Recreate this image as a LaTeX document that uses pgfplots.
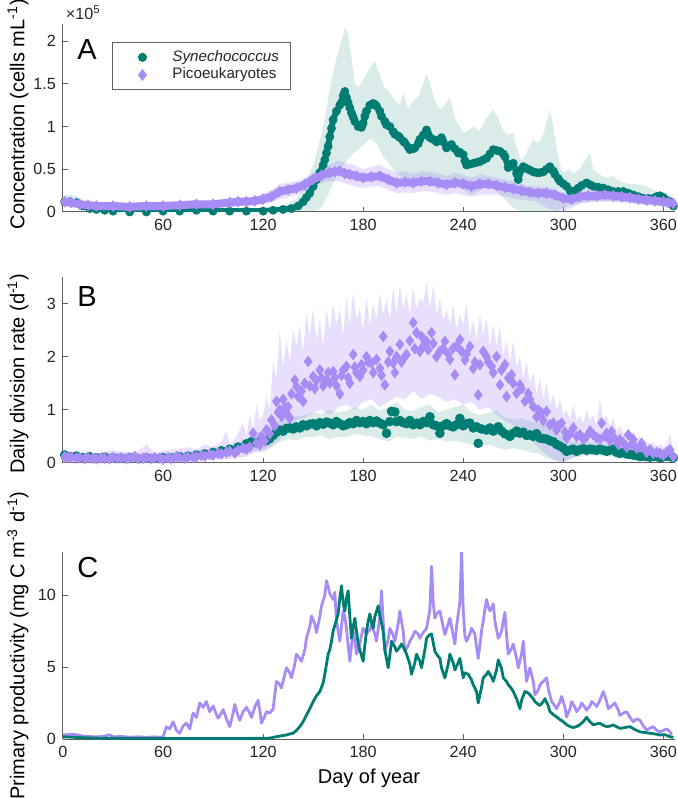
\documentclass[border=0pt]{standalone}
\usepackage{pgfplots}
\pgfplotsset{compat=1.18}
\usepackage{pgfplotstable}
\usepackage{fontspec}
\setmainfont{Liberation Sans}
\definecolor{syn}{RGB}{0,125,115}
\definecolor{pico}{RGB}{168,140,245}
\definecolor{axgray}{RGB}{95,95,95}
\definecolor{txt}{RGB}{38,38,38}

% ---------------- Panel A ----------------
\pgfplotstableread{
x y
1 0.12
4 0.12
8 0.11
12 0.07
16 0.04
20 0.03
25 0.02
30 0.01
40 0.0
50 0.0
60 0.01
70 0.01
80 0.02
90 0.01
100 0.01
110 0.01
120 0.01
126 0.02
132 0.03
137 0.04
141 0.07
144 0.12
146 0.17
148 0.22
150 0.30
152 0.38
154 0.46
156 0.55
157 0.61
158 0.69
159 0.77
160 0.88
161 0.98
162 1.08
164 1.18
166 1.25
167 1.28
168 1.36
169 1.41
170 1.34
171 1.28
172 1.22
173 1.16
174 1.11
175 1.06
177 1.00
179 0.99
180 1.04
181 1.12
182 1.18
184 1.25
186 1.27
187 1.26
188 1.24
190 1.18
191 1.12
193 1.06
194 1.02
196 1.00
198 0.94
199 0.91
201 0.89
202 0.87
204 0.83
205 0.81
207 0.76
208 0.73
210 0.74
211 0.75
213 0.80
214 0.85
216 0.90
218 0.96
219 0.91
220 0.87
222 0.85
224 0.82
225 0.84
227 0.87
228 0.82
230 0.75
231 0.77
233 0.79
235 0.74
237 0.69
238 0.70
240 0.67
241 0.60
242 0.55
244 0.56
246 0.57
248 0.58
250 0.59
252 0.61
254 0.63
256 0.68
258 0.73
260 0.72
262 0.71
264 0.68
265 0.65
267 0.52
268 0.55
270 0.57
272 0.45
273 0.38
275 0.50
276 0.53
278 0.51
280 0.49
282 0.47
284 0.46
286 0.46
288 0.47
290 0.50
292 0.53
294 0.48
295 0.44
297 0.39
298 0.36
300 0.33
302 0.30
304 0.25
305 0.22
307 0.25
309 0.28
311 0.31
314 0.34
316 0.32
318 0.30
321 0.29
324 0.28
327 0.26
330 0.24
333 0.24
336 0.24
339 0.22
342 0.20
345 0.18
348 0.16
351 0.16
354 0.16
356 0.18
358 0.19
360 0.17
362 0.14
364 0.12
366 0.07
}\synA

\pgfplotstableread{
x y
1 0.12
5 0.11
10 0.09
15 0.08
20 0.07
30 0.07
40 0.06
50 0.07
60 0.07
70 0.08
80 0.09
90 0.09
100 0.11
105 0.12
110 0.12
115 0.13
120 0.15
125 0.18
130 0.24
135 0.26
140 0.28
145 0.32
150 0.38
155 0.43
160 0.46
163 0.47
166 0.48
169 0.45
172 0.44
176 0.42
180 0.40
185 0.41
190 0.42
195 0.38
200 0.34
205 0.35
210 0.34
215 0.36
220 0.36
225 0.34
230 0.32
235 0.34
240 0.33
245 0.30
250 0.33
255 0.33
260 0.31
265 0.29
270 0.27
275 0.25
280 0.23
285 0.22
290 0.22
295 0.20
300 0.16
305 0.15
310 0.18
315 0.19
320 0.19
325 0.20
330 0.19
335 0.18
340 0.17
345 0.15
350 0.14
355 0.13
360 0.12
363 0.11
366 0.10
}\picA

% band polygons: upper edge left to right, then lower edge right to left
\pgfplotstableread{
x y
1 0.20
5 0.20
10 0.17
15 0.08
20 0.05
40 0.02
60 0.03
80 0.04
100 0.03
120 0.04
130 0.06
140 0.15
145 0.30
150 0.55
155 0.90
158 1.20
161 1.55
164 1.80
167 2.00
169 2.16
171 2.10
173 1.80
175 1.50
177 1.45
180 1.55
183 1.65
187 1.77
190 1.60
193 1.45
196 1.40
199 1.30
202 1.25
204 1.40
207 1.20
210 1.30
213 1.35
216 1.50
218 1.63
220 1.50
223 1.30
226 1.20
229 1.25
232 1.35
235 1.10
238 1.00
240 0.93
243 0.95
246 1.00
250 0.95
254 1.10
258 1.20
261 1.10
264 0.95
267 0.90
270 0.93
272 0.75
275 0.60
278 0.70
282 0.85
285 0.80
288 0.90
290 1.05
292 1.20
294 1.00
296 0.75
298 0.55
300 0.46
303 0.50
306 0.45
310 0.50
313 0.60
316 0.69
318 0.50
321 0.45
325 0.40
330 0.42
335 0.35
340 0.33
345 0.32
350 0.30
355 0.25
360 0.22
364 0.17
367 0.12
367 0.03
360 0.06
350 0.08
340 0.10
330 0.12
320 0.12
310 0.10
305 0.08
300 0.05
295 0.0
275 0.0
270 0.05
265 0.15
260 0.25
255 0.30
250 0.25
245 0.20
240 0.26
235 0.32
230 0.28
225 0.32
220 0.38
215 0.42
210 0.32
205 0.38
200 0.45
196 0.55
192 0.65
188 0.80
184 0.86
180 0.78
175 0.70
170 0.60
165 0.45
160 0.25
155 0.05
150 0.0
130 0.0
20 0.0
10 0.05
1 0.06
}\synAband

\pgfplotstableread{
x y
1 0.17
10 0.14
20 0.10
40 0.09
60 0.10
80 0.12
100 0.15
115 0.17
125 0.26
130 0.33
135 0.34
140 0.36
145 0.40
150 0.46
155 0.52
160 0.56
165 0.60
170 0.57
175 0.55
180 0.50
185 0.53
190 0.55
195 0.50
200 0.46
205 0.48
210 0.45
215 0.48
220 0.47
225 0.45
230 0.42
235 0.46
240 0.43
245 0.40
250 0.44
255 0.42
260 0.40
265 0.38
270 0.36
275 0.33
280 0.30
285 0.30
290 0.29
295 0.27
300 0.22
305 0.21
310 0.24
315 0.25
320 0.25
325 0.26
330 0.25
335 0.23
340 0.22
345 0.20
350 0.18
355 0.17
360 0.16
366 0.14
366 0.06
360 0.07
355 0.08
350 0.09
345 0.10
340 0.11
335 0.12
330 0.12
325 0.13
320 0.12
315 0.12
310 0.10
305 0.05
300 0.0
295 0.02
290 0.05
285 0.12
280 0.13
275 0.14
270 0.16
265 0.18
260 0.20
255 0.21
250 0.20
245 0.18
240 0.20
235 0.22
230 0.20
225 0.22
220 0.24
215 0.24
210 0.22
205 0.23
200 0.22
195 0.26
190 0.30
185 0.30
180 0.28
175 0.30
170 0.33
165 0.36
160 0.36
155 0.34
150 0.30
145 0.24
140 0.20
135 0.17
130 0.15
125 0.11
115 0.08
100 0.07
80 0.05
60 0.04
40 0.03
20 0.04
10 0.05
1 0.08
}\picAband

% ---------------- Panel B ----------------
\pgfplotstableread{
x y
1 0.15
4 0.12
8 0.13
12 0.10
16 0.12
20 0.10
25 0.11
30 0.10
35 0.09
40 0.10
45 0.08
50 0.10
55 0.09
60 0.10
65 0.10
70 0.12
75 0.13
80 0.15
85 0.17
90 0.20
95 0.23
100 0.26
105 0.30
110 0.36
113 0.40
116 0.38
119 0.43
122 0.42
124 0.46
126 0.52
128 0.58
130 0.62
132 0.60
134 0.65
136 0.66
138 0.64
140 0.68
142 0.66
144 0.72
146 0.70
148 0.73
150 0.74
152 0.70
154 0.76
156 0.73
158 0.77
160 0.75
162 0.72
164 0.78
166 0.74
168 0.70
170 0.72
172 0.76
174 0.74
176 0.80
178 0.76
180 0.78
182 0.74
184 0.80
186 0.76
188 0.79
190 0.75
192 0.72
194 0.56
196 0.78
197 0.97
199 0.96
200 0.78
202 0.80
204 0.76
206 0.74
208 0.80
210 0.72
212 0.75
214 0.72
216 0.78
218 0.76
220 0.87
222 0.72
224 0.70
226 0.56
228 0.70
230 0.74
232 0.70
234 0.68
236 0.72
238 0.84
240 0.70
242 0.74
244 0.75
246 0.66
248 0.68
249 0.37
251 0.64
254 0.62
256 0.66
258 0.60
261 0.68
263 0.60
265 0.55
268 0.50
270 0.56
272 0.60
274 0.56
276 0.58
278 0.52
280 0.53
282 0.50
284 0.55
286 0.47
288 0.46
290 0.45
292 0.42
294 0.40
296 0.35
298 0.32
300 0.28
302 0.22
304 0.24
306 0.26
308 0.22
310 0.25
312 0.27
314 0.24
316 0.26
318 0.25
320 0.24
322 0.26
324 0.24
326 0.22
328 0.24
330 0.26
332 0.20
334 0.18
336 0.20
338 0.17
340 0.16
342 0.15
344 0.14
346 0.12
348 0.13
350 0.12
352 0.11
354 0.12
356 0.12
358 0.10
360 0.12
362 0.13
364 0.12
366 0.10
}\synB

\pgfplotstableread{
x y
1 0.12
3 0.10
5 0.11
8 0.09
10 0.10
13 0.08
15 0.10
18 0.09
20 0.08
23 0.10
25 0.09
28 0.08
30 0.10
33 0.09
35 0.10
38 0.08
40 0.09
43 0.12
45 0.08
48 0.09
50 0.10
53 0.08
55 0.10
58 0.09
60 0.07
63 0.10
65 0.08
68 0.12
70 0.10
73 0.09
75 0.11
78 0.10
80 0.12
83 0.14
85 0.13
88 0.16
90 0.15
93 0.18
95 0.17
98 0.20
100 0.22
103 0.19
105 0.24
108 0.28
110 0.26
112 0.30
114 0.56
116 0.38
118 0.34
119 0.50
121 0.42
122 0.62
124 0.55
125 0.81
127 0.70
128 1.16
129 0.95
130 1.00
131 0.88
132 1.20
133 1.05
134 0.94
135 1.06
136 0.85
137 1.30
139 1.56
140 1.44
141 1.25
143 1.35
144 1.16
145 1.50
147 1.91
148 1.45
150 1.63
151 1.40
152 1.55
154 1.75
155 1.60
156 1.45
158 1.56
159 1.70
160 1.50
162 1.72
163 1.60
164 1.45
166 1.30
167 1.65
168 1.75
170 1.82
171 1.60
172 1.50
174 2.04
175 1.80
176 1.70
178 1.63
179 1.85
180 1.75
182 2.00
183 1.90
185 1.88
186 1.70
188 1.95
190 1.78
191 1.65
192 2.38
193 1.47
195 1.90
196 2.10
198 1.88
199 1.70
200 2.00
202 2.23
203 1.90
205 2.00
206 2.04
208 2.30
210 2.64
211 2.15
212 2.45
214 2.10
215 2.38
216 2.20
218 2.29
219 2.13
221 2.45
222 2.25
224 2.00
226 2.10
228 2.15
229 2.29
231 2.05
232 1.95
234 2.16
235 1.66
236 2.20
238 2.32
239 2.10
241 1.94
242 2.05
244 2.19
246 1.78
247 1.90
249 1.28
250 1.85
252 2.10
254 2.00
255 1.90
257 1.82
258 1.70
260 2.00
262 1.47
263 1.75
265 1.85
266 1.25
267 1.60
269 1.66
270 1.50
272 1.31
274 1.47
275 1.40
277 1.16
279 1.31
280 1.20
282 1.06
284 0.87
285 1.00
287 0.94
288 0.80
290 0.97
292 0.72
294 0.75
296 0.62
297 0.70
299 0.75
301 0.58
302 0.47
304 0.55
306 0.66
308 0.50
310 0.53
312 0.45
314 0.50
316 0.60
318 0.53
320 0.48
322 0.45
323 0.75
325 0.50
326 0.56
328 0.42
329 0.59
331 0.45
333 0.35
334 0.44
336 0.38
338 0.30
339 0.53
341 0.35
342 0.44
344 0.28
346 0.30
347 0.37
349 0.25
350 0.20
352 0.25
354 0.18
356 0.20
358 0.18
360 0.15
362 0.20
364 0.25
366 0.12
}\picB

\pgfplotstableread{
x y
1 0.20
20 0.15
40 0.14
60 0.16
80 0.20
90 0.26
100 0.32
110 0.45
115 0.55
120 0.62
125 0.75
130 0.80
135 0.85
140 0.88
145 0.90
150 0.95
155 0.92
160 1.00
165 0.95
170 0.98
175 1.05
180 1.00
185 1.10
190 0.98
195 1.05
200 1.15
205 1.00
210 0.98
215 1.05
220 1.10
225 0.95
230 1.00
235 1.05
240 1.10
245 0.95
250 0.90
255 0.95
260 0.98
265 0.85
270 0.82
275 0.85
280 0.78
285 0.75
290 0.70
295 0.60
300 0.50
305 0.40
310 0.38
315 0.40
320 0.38
325 0.36
330 0.35
335 0.30
340 0.27
345 0.24
350 0.20
355 0.18
360 0.18
366 0.15
366 0.04
360 0.05
350 0.06
340 0.08
330 0.12
320 0.14
310 0.12
305 0.08
300 0.02
295 0.05
290 0.10
285 0.18
280 0.20
275 0.25
270 0.28
265 0.25
260 0.30
255 0.35
250 0.30
245 0.35
240 0.38
235 0.42
230 0.40
225 0.45
220 0.42
215 0.50
210 0.45
205 0.48
200 0.50
195 0.40
190 0.45
185 0.50
180 0.52
175 0.55
170 0.48
165 0.50
160 0.45
155 0.52
150 0.48
145 0.50
140 0.42
135 0.45
130 0.40
125 0.30
120 0.25
110 0.20
100 0.15
90 0.12
80 0.08
60 0.05
40 0.05
20 0.06
1 0.08
}\synBband

\pgfplotstableread{
x y
1 0.22
10 0.20
20 0.18
30 0.25
35 0.20
45 0.22
50 0.35
55 0.20
65 0.25
75 0.30
80 0.25
85 0.35
90 0.30
95 0.40
98 0.60
100 0.35
104 0.50
108 0.75
110 0.50
112 0.90
114 0.60
116 1.10
118 0.80
120 0.90
122 1.25
124 1.00
126 1.90
128 1.60
130 2.50
132 1.80
134 2.30
136 1.90
138 2.50
140 2.20
142 2.60
144 2.10
146 2.80
148 2.40
150 2.90
152 2.30
154 2.70
156 2.20
158 2.90
160 2.50
162 3.00
164 2.60
166 2.90
168 2.40
170 3.10
172 2.60
174 3.20
176 2.70
178 2.90
180 2.50
182 3.10
184 2.60
186 3.00
188 2.70
190 3.20
192 2.80
194 3.10
196 2.70
198 3.30
200 2.80
202 3.35
204 2.90
206 3.20
208 2.80
210 3.30
212 2.90
214 3.10
216 3.00
218 3.40
220 2.90
222 3.35
224 2.80
226 3.10
228 2.70
230 2.90
232 2.60
234 3.00
236 2.50
238 2.80
240 2.60
242 3.00
244 2.40
246 2.70
248 2.30
250 2.80
252 2.40
254 2.70
256 2.20
258 2.60
260 2.20
262 2.60
264 2.00
266 2.30
268 1.90
270 2.30
272 1.80
274 2.00
276 1.60
278 1.90
280 1.50
282 1.70
284 1.30
286 1.60
288 1.20
290 1.50
292 1.10
294 1.30
296 1.00
298 1.20
300 0.90
302 1.00
304 0.80
306 1.10
308 0.80
310 0.90
312 0.75
314 1.00
316 0.80
318 0.90
320 0.70
322 1.20
324 0.80
326 0.90
328 0.70
330 0.85
332 0.60
334 0.70
336 0.55
338 0.60
340 0.50
342 0.60
344 0.45
346 0.50
348 0.40
350 0.40
352 0.35
354 0.40
356 0.30
358 0.35
360 0.30
362 0.35
364 0.55
366 0.25
366 0.03
360 0.04
350 0.05
345 0.06
340 0.08
335 0.10
330 0.15
325 0.20
320 0.15
315 0.20
310 0.15
305 0.10
300 0.00
295 0.05
290 0.15
285 0.30
280 0.45
275 0.60
270 0.70
265 0.80
260 0.90
255 1.05
250 1.00
245 1.15
240 1.10
235 1.20
230 1.15
225 1.25
220 1.30
215 1.20
210 1.35
205 1.20
200 1.25
195 1.15
190 1.05
185 1.20
180 1.15
175 1.00
170 1.10
165 1.05
160 0.90
155 1.00
150 0.95
145 0.85
140 0.80
135 0.60
130 0.45
125 0.30
120 0.20
115 0.20
110 0.12
100 0.08
90 0.06
80 0.04
60 0.02
40 0.03
20 0.03
1 0.04
}\picBband

% ---------------- Panel C ----------------
\pgfplotstableread{
x y
0 0.15
3 0.14
6 0.12
10 0.10
15 0.08
20 0.06
30 0.05
40 0.04
50 0.03
60 0.03
70 0.03
80 0.03
90 0.03
100 0.03
110 0.04
120 0.05
124 0.06
128 0.16
131 0.22
134 0.28
136 0.35
138 0.40
140 0.60
142 0.86
144 1.20
146 1.67
148 2.10
150 2.60
152 3.00
154 3.30
156 3.90
157 4.50
158 5.20
159 5.90
160 6.20
161 6.80
162 7.50
163 7.90
164 8.30
165 8.70
166 9.80
167 10.65
168 9.50
169 8.90
170 9.80
171 10.30
172 8.50
173 7.00
174 7.80
175 8.40
176 7.50
177 6.60
178 6.20
180 5.40
181 6.50
182 7.50
183 8.20
184 8.70
185 8.10
186 7.70
187 8.50
189 9.25
190 8.60
192 7.50
193 6.20
195 4.95
196 5.80
197 6.80
199 6.40
200 6.10
202 6.40
203 6.60
205 6.20
206 5.90
208 5.20
209 4.50
211 5.30
212 5.90
214 5.40
215 4.95
217 6.20
218 7.00
220 7.27
221 7.30
223 6.10
224 5.90
226 5.60
227 4.95
229 4.25
231 5.20
232 5.90
234 5.30
235 4.80
237 5.30
238 5.60
240 4.25
241 4.60
243 4.50
245 4.10
246 3.77
248 3.30
249 2.50
251 3.60
252 4.25
254 4.50
255 4.70
257 4.30
258 4.00
260 4.80
261 5.50
263 4.90
264 4.25
266 4.00
267 3.77
269 3.50
270 3.30
272 2.80
274 2.10
275 2.70
277 3.30
279 3.20
280 3.07
282 2.80
283 2.60
285 2.40
286 2.33
288 2.60
289 2.80
291 2.30
292 1.90
294 1.70
296 1.53
298 1.35
300 1.20
302 1.00
304 0.86
306 0.80
308 0.86
310 1.00
312 1.20
314 1.50
316 1.20
318 0.98
320 1.05
322 1.10
324 0.95
326 0.86
328 0.90
330 0.98
332 0.85
334 0.74
337 0.80
340 0.86
343 0.65
346 0.50
349 0.45
352 0.40
355 0.35
358 0.28
361 0.30
364 0.16
366 0.10
}\synC

\pgfplotstableread{
x y
0 0.28
3 0.30
6 0.32
9 0.28
12 0.20
16 0.18
20 0.15
25 0.20
28 0.30
30 0.15
35 0.18
40 0.12
45 0.15
50 0.12
55 0.15
58 0.12
60 0.15
62 0.85
64 0.70
66 1.20
68 0.60
70 0.40
72 0.90
74 1.10
76 0.70
78 1.80
80 1.50
82 2.50
84 2.20
86 2.60
88 1.90
90 2.30
92 1.70
93 1.45
95 1.80
96 2.05
98 1.40
100 0.86
102 1.80
103 2.40
105 1.60
106 1.30
108 1.90
110 2.20
112 1.80
113 1.50
115 2.20
117 2.70
118 2.00
119 1.10
121 1.60
122 1.90
124 1.80
126 2.10
128 4.00
130 3.80
131 3.55
133 4.50
134 4.95
136 4.60
137 4.25
139 5.20
140 5.90
142 5.60
143 5.40
145 6.20
146 7.00
148 7.80
149 8.55
151 8.00
152 7.40
154 8.50
155 9.25
157 10.00
158 11.00
159 10.60
160 10.10
162 9.70
163 10.20
164 8.20
165 7.50
166 6.80
167 7.80
168 8.90
169 8.50
170 7.70
171 6.50
172 5.40
173 6.50
174 7.50
175 6.80
176 5.90
177 6.20
178 6.60
179 7.20
180 7.70
181 7.50
182 7.30
184 7.60
185 7.97
187 7.30
188 6.80
190 8.50
191 10.30
192 8.20
193 6.10
195 6.90
196 7.70
198 7.20
199 6.80
201 8.00
202 8.90
204 7.50
205 6.10
207 6.50
208 6.80
210 7.20
211 7.50
213 7.30
214 7.00
216 7.40
218 7.70
219 8.30
220 9.00
221 12.00
222 9.50
223 8.40
224 8.70
226 8.90
228 7.80
229 7.27
231 8.00
232 8.40
234 7.20
235 6.60
236 7.80
237 8.70
238 9.50
239 13.05
240 9.00
241 7.20
242 6.80
244 7.30
245 7.70
246 7.50
247 7.30
248 6.40
249 5.60
251 7.50
252 8.20
253 9.00
254 9.70
255 9.20
256 8.90
257 9.10
258 9.40
259 8.20
261 7.00
262 7.20
263 7.50
264 8.20
265 8.80
266 7.20
267 5.90
269 6.30
270 6.60
272 5.60
273 4.95
275 5.90
276 6.80
277 5.30
278 4.00
279 4.50
280 4.95
282 4.00
283 3.07
285 3.40
286 3.77
288 4.00
290 4.25
291 3.50
293 2.60
295 2.30
296 2.10
298 2.60
299 2.96
301 2.20
302 1.53
304 2.10
305 2.60
307 2.20
308 1.90
310 2.20
311 2.50
313 2.20
314 2.00
316 2.30
317 2.60
319 2.40
320 2.25
322 2.70
324 3.30
326 2.60
327 2.10
329 2.30
331 2.50
333 2.00
334 1.65
336 1.80
338 1.90
340 1.50
342 1.20
344 1.40
346 1.30
348 0.90
350 0.63
352 0.75
354 0.86
356 0.60
358 0.50
360 0.60
362 0.70
364 0.50
365 0.28
}\picC

\pgfplotsset{
  base/.style={
    scale only axis, width=306pt,
    xmin=0, xmax=367,
    clip mode=individual,
    axis x line*=bottom, axis y line*=left,
    tick align=inside, major tick length=2.5pt,
    axis line style={draw=axgray, line width=0.5pt},
    every tick/.append style={draw=axgray, line width=0.5pt},
    xtick={60,120,...,360},
    scaled y ticks=false,
    /pgf/number format/assume math mode=true,
    tick label style={font=\fontsize{8.1}{9.5}\selectfont, text=txt},
    label style={font=\fontsize{9}{10.5}\selectfont, text=txt},
    every axis y label/.style={at={(axis description cs:-0.0735,0.5)}, rotate=90, anchor=center},
    every axis x label/.style={at={(axis description cs:0.5,0)}, yshift=-19.5pt, anchor=center},
  },
  bandsyn/.style={fill=syn, fill opacity=0.15, draw=none},
  bandpic/.style={fill=pico, fill opacity=0.28, draw=none},
  legimg/.style={legend image code/.code={\path[draw=none, fill=none] (0pt,0pt) -- (24pt,0pt); \path[##1, draw=none] plot[only marks] coordinates {(12pt,0pt)};}},
}
\tikzset{letter/.style={anchor=base west, inner sep=0pt, font=\fontsize{14.5}{16}\selectfont, text=black}}

\begin{document}
\begin{tikzpicture}
\path[use as bounding box] (-31.5pt,-29.5pt) rectangle (307.5pt,369.5pt);

% ---------- A ----------
\begin{axis}[base, at={(0pt,263.5pt)}, anchor=south west, height=94pt,
  ymin=0, ymax=2.2, ytick={0,0.5,1,1.5,2},
  ylabel={Concentration (cells mL\textsuperscript{-1})},
  ylabel style={at={(axis description cs:-0.0735,0.52)}},
  legend style={at={(axis description cs:0.080,0.904)}, anchor=north west,
    draw=axgray, line width=0.5pt, fill=white,
    font=\fontsize{7.6}{9}\selectfont, text=txt,
    inner xsep=3pt, inner ysep=3pt, row sep=0pt,
    nodes={inner ysep=0.9pt, inner xsep=3pt}},
  legend cell align=left,
]
\addplot[bandsyn, forget plot] table {\synAband};
\addplot[bandpic, forget plot] table {\picAband};
\addplot[syn, line width=3pt, line join=round, forget plot] table {\synA};
\addplot[only marks, mark=*, mark size=2pt, mark options={draw=syn, fill=syn}, legimg] table {\synA};
\addlegendentry{\textit{Synechococcus}}
\addplot[pico, line width=4pt, line join=round, forget plot] table {\picA};
\addplot[only marks, mark=diamond*, mark size=2.6pt, mark options={draw=pico, fill=pico}, legimg] table {\picA};
\addlegendentry{Picoeukaryotes}
\node[letter] at (axis description cs:0.0229,0.809) {A};
\node[anchor=base west, font=\fontsize{8.1}{9.5}\selectfont, text=txt, inner sep=0pt] at (axis description cs:0.004,1.025) {×10\textsuperscript{5}};
\end{axis}

% ---------- B ----------
\begin{axis}[base, at={(0pt,138pt)}, anchor=south west, height=93pt,
  ymin=0, ymax=3.5, ytick={0,1,2,3},
  ylabel={Daily division rate (d\textsuperscript{-1})},
  ylabel style={at={(axis description cs:-0.0735,0.48)}},
]
\addplot[bandsyn, forget plot] table {\synBband};
\addplot[bandpic, forget plot] table {\picBband};
\addplot[only marks, mark=*, mark size=2.2pt, mark options={draw=syn, fill=syn}] table {\synB};
\addplot[only marks, mark=diamond*, mark size=2.6pt, mark options={draw=pico, fill=pico}] table {\picB};
\node[letter] at (axis description cs:0.0229,0.839) {B};
\end{axis}

% ---------- C ----------
\begin{axis}[base, at={(0pt,0pt)}, anchor=south west, height=93.5pt,
  ymin=0, ymax=13, ytick={0,5,10},
  xtick={0,60,120,...,360},
  ylabel={Primary productivity (mg C m\textsuperscript{-3} d\textsuperscript{-1})},
  ylabel style={at={(axis description cs:-0.0735,0.5)}},
  xlabel={Day of year},
]
\addplot[pico, line width=1.4pt, line join=round] table {\picC};
\addplot[syn, line width=1.4pt, line join=round] table {\synC};
\node[letter] at (axis description cs:0.0229,0.866) {C};
\end{axis}
\end{tikzpicture}
\end{document}
